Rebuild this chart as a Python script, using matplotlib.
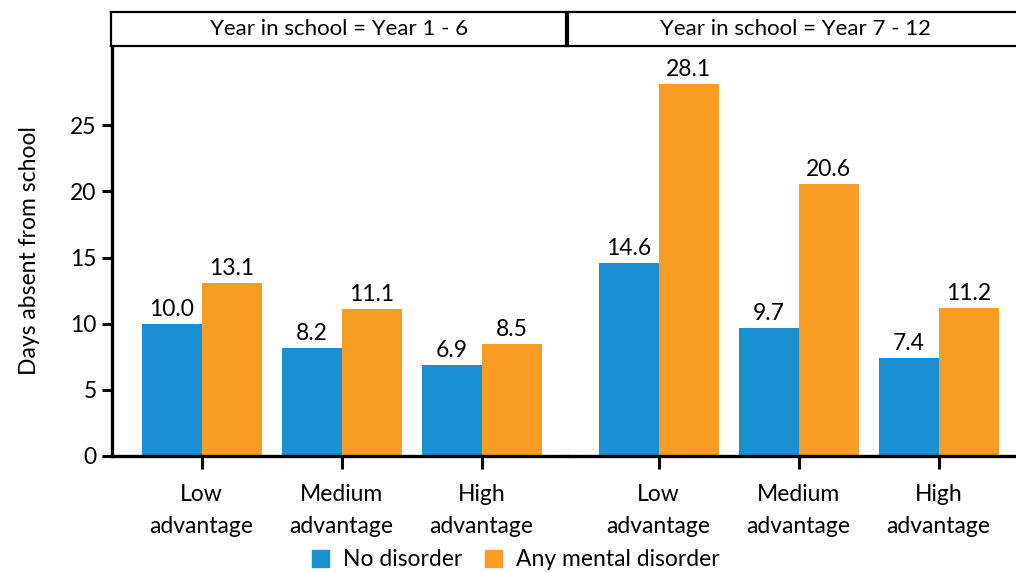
import matplotlib
matplotlib.use("Agg")
import matplotlib.pyplot as plt
from matplotlib.patches import Patch
import numpy as np

plt.rcParams['font.family'] = ['Lato', 'DejaVu Sans']

panels = ['Year in school = Year 1 - 6', 'Year in school = Year 7 - 12']
groups = ['Low\nadvantage', 'Medium\nadvantage', 'High\nadvantage']
series = ['No disorder', 'Any mental disorder']
no_disorder = [[10.0, 8.2, 6.9], [14.6, 9.7, 7.4]]
any_disorder = [[13.1, 11.1, 8.5], [28.1, 20.6, 11.2]]
colors = ['#1a90d2', '#f89c24']

W, H = 1016, 572
fig = plt.figure(figsize=(W / 100, H / 100), dpi=100)

fs = 16.5
bw = 60 / 140
x = np.arange(len(groups))
lefts = [112, 569]
pw = 455
bottom_px, top_px, strip_top = 456, 46, 12

for p in range(2):
    ax = fig.add_axes([lefts[p] / W, 1 - bottom_px / H, pw / W, (bottom_px - top_px) / H])
    for vals, off, c in [(no_disorder[p], -bw / 2, colors[0]), (any_disorder[p], bw / 2, colors[1])]:
        bars = ax.bar(x + off, vals, width=bw, color=c, edgecolor='none')
        for b, v in zip(bars, vals):
            ax.text(b.get_x() + b.get_width() / 2, v + 0.3, f'{v:.1f}',
                    ha='center', va='bottom', fontsize=fs)
    ax.set_xlim(-0.64, 2.61)
    ax.set_ylim(0, 31.0)
    ax.set_xticks(x)
    ax.set_xticklabels(groups, fontsize=fs, linespacing=1.65)
    ax.tick_params(axis='x', length=9, width=2.2, pad=11)
    for s in ['top', 'right']:
        ax.spines[s].set_visible(False)
    ax.spines['bottom'].set_linewidth(2.4)
    if p == 0:
        ax.set_yticks([0, 5, 10, 15, 20, 25])
        ax.tick_params(axis='y', length=7, width=2.2, labelsize=fs, pad=4)
        ax.spines['left'].set_linewidth(2.4)
        ax.set_ylabel('Days absent from school', fontsize=fs, labelpad=22)
    else:
        ax.spines['left'].set_visible(False)
        ax.set_yticks([])

    # facet strip
    sx = fig.add_axes([lefts[p] / W - 0.0005, 1 - top_px / H, pw / W, (top_px - strip_top) / H])
    sx.set_xticks([])
    sx.set_yticks([])
    for s in sx.spines.values():
        s.set_linewidth(1.6)
    sx.text(0.5, 0.5, panels[p], ha='center', va='center', fontsize=16,
            transform=sx.transAxes)

handles = [Patch(color=c) for c in colors]
fig.legend(handles, series, loc='center', bbox_to_anchor=(516 / W, 1 - 560 / H),
           ncol=2, frameon=False, fontsize=fs, handlelength=0.75, handleheight=0.75,
           columnspacing=1.0, handletextpad=0.6, borderaxespad=0)

fig.savefig('out.png', dpi=100)
